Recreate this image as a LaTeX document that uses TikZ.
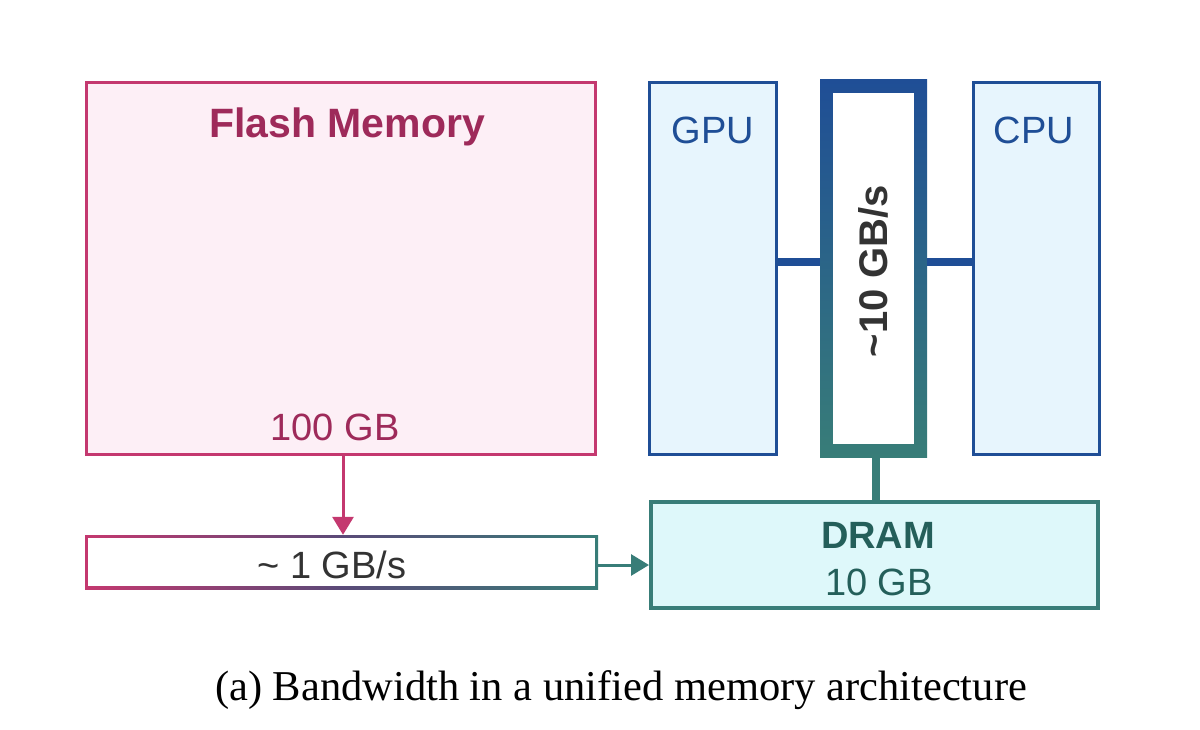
\documentclass[tikz,border=0pt]{standalone}
\usepackage{fontspec}
\setmainfont{Liberation Serif}
\setsansfont{Liberation Sans}
\usetikzlibrary{arrows.meta}
\definecolor{mag}{HTML}{C4386F}
\definecolor{magfill}{HTML}{FDEFF6}
\definecolor{magtext}{HTML}{9E2A5A}
\definecolor{blu}{HTML}{1F4E96}
\definecolor{blufill}{HTML}{E7F5FD}
\definecolor{teal2}{HTML}{387D78}
\definecolor{tealfill}{HTML}{DEF8FA}
\definecolor{tealtext}{HTML}{245F5A}
\definecolor{txtgray}{HTML}{333333}
\definecolor{midpurple}{HTML}{5A4A78}
\tikzset{
  x=1pt,y=-1pt,
  box/.style={rectangle, inner sep=0pt, minimum width=#1},
  lbl/.style={font=\sffamily\fontsize{38}{44}\selectfont, inner sep=0pt},
  blbl/.style={font=\sffamily\bfseries\fontsize{38}{44}\selectfont, inner sep=0pt},
  tip/.style={-{Triangle[length=18pt,width=21pt]}},
}
\begin{document}
\begin{tikzpicture}
\useasboundingbox (0,0) rectangle (1200,730);
% Flash
\node[box=509pt, minimum height=372pt, draw=mag, fill=magfill, line width=3pt] (flash) at (341,268.5) {};
\node[blbl, text=magtext, font=\sffamily\bfseries\fontsize{41}{46}\selectfont] (flasht) at (347,127) {Flash Memory};
\node[lbl, text=magtext] (flashgb) at (335,427) {100 GB};
% GPU / CPU
\node[box=127pt, minimum height=372pt, draw=blu, fill=blufill, line width=3pt] (gpu) at (712.5,268.5) {};
\node[lbl, text=blu] (gput) at (713,130) {GPU};
\node[box=126pt, minimum height=372pt, draw=blu, fill=blufill, line width=3pt] (cpu) at (1036,268.5) {};
\node[lbl, text=blu] (cput) at (1034,130) {CPU};
% Bus
\node[box=107pt, minimum height=377pt, top color=blu, bottom color=teal2, draw=none] (bus) at (873.5,268.5) {};
\node[box=81pt, minimum height=351pt, fill=white] (businner) at (bus) {};
\node[blbl, text=txtgray, rotate=90, font=\sffamily\bfseries\fontsize{40}{46}\selectfont] (bust) at (873,271) {\textasciitilde10 GB/s};
% DRAM
\node[box=447pt, minimum height=106pt, draw=teal2, fill=tealfill, line width=4pt] (dram) at (874.5,555) {};
\node[blbl, text=tealtext] (dramt) at (878,535) {DRAM};
\node[lbl, text=tealtext] (dramgb) at (879,582) {10 GB};
% Bandwidth box
\node[box=513pt, minimum height=54pt, left color=mag, right color=teal2, middle color=midpurple, draw=none] (bw) at (341.5,562) {};
\node[box=507pt, minimum height=48pt, fill=white] (bwinner) at (bw) {};
\node[lbl, text=txtgray] (bwt) at (332,565) {\textasciitilde{} 1 GB/s};
% Connectors
\draw[blu, line width=8pt] (gpu.east |- 0,262) -- (bus.west |- 0,262);
\draw[blu, line width=8pt] (bus.east |- 0,262) -- (cpu.west |- 0,262);
\draw[teal2, line width=8pt] ([xshift=2.5pt]bus.south) -- ([xshift=2.5pt]bus.south |- dram.north);
\draw[mag, line width=3pt, tip] (flash.south -| 343,0) -- (bw.north -| 343,0);
\draw[teal2, line width=3pt, tip] (bw.east |- 0,565) -- (dram.west |- 0,565);
% Caption
\node[font=\fontsize{42.5}{48}\selectfont, inner sep=0pt] (cap) at (621,690) {(a) Bandwidth in a unified memory architecture};
\end{tikzpicture}
\end{document}
